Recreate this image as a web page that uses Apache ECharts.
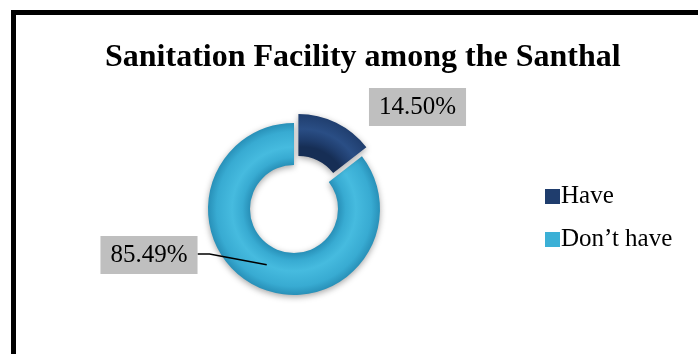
<!DOCTYPE html>
<html>
<head>
<meta charset="utf-8">
<script src="https://cdn.jsdelivr.net/npm/echarts@6/dist/echarts.min.js"></script>
<style>
html,body{margin:0;padding:0;background:#fff;}
#chart{width:698px;height:354px;}
</style>
</head>
<body>
<div id="chart"></div>
<script>
// ---- data ----
const titleText = 'Sanitation Facility among the Santhal';
const categories = ['Have', 'Don\u2019t have'];
const values = [14.50, 85.49];
const labelTexts = ['14.50%', '85.49%'];

// ---- style / layout ----
const CX = 294, CY = 209, R_IN = 44, R_OUT = 86, EXPLODE = 10;
const baseColors = ['#1f3d6d', '#3bb0d6'];

function ringGradient(cx, cy, dark, mid, light) {
  return {
    type: 'radial', x: cx, y: cy, r: R_OUT, global: true,
    colorStops: [
      { offset: 0, color: dark },
      { offset: R_IN / R_OUT, color: dark },
      { offset: 0.6, color: mid },
      { offset: 0.72, color: light },
      { offset: 0.9, color: mid },
      { offset: 1, color: dark }
    ]
  };
}
const total = values.reduce((a, b) => a + b, 0);
const haveMid = values[0] / total * Math.PI;
const offX = EXPLODE * Math.sin(haveMid), offY = -EXPLODE * Math.cos(haveMid);

const gradients = [
  ringGradient(CX + offX, CY + offY, '#162e55', '#1f3d6d', '#2a4e85'),
  ringGradient(CX, CY, '#2890b8', '#38abd2', '#46bbdf')
];

const mainData = categories.map((c, i) => ({
  name: c, value: values[i], selected: i === 0,
  itemStyle: { color: gradients[i] }
}));

const labelPos = [{ x: 417.5, y: 107 }, { x: 149, y: 255 }];

const overlayData = categories.map((c, i) => ({
  name: c, value: values[i],
  labelLine: { show: i === 1 }
}));

const chart = echarts.init(document.getElementById('chart'), null, { renderer: 'canvas' });
chart.setOption({
  backgroundColor: '#ffffff',
  animation: false,
  title: {
    text: titleText,
    left: 100,
    top: 37,
    textStyle: { fontFamily: 'Liberation Serif', fontWeight: 'bold', fontSize: 32, color: '#000' }
  },
  graphic: [{
    type: 'rect',
    shape: { x: 13.5, y: 12.5, width: 800, height: 500 },
    style: { fill: 'none', stroke: '#000', lineWidth: 5 },
    silent: true
  }],
  legend: {
    orient: 'vertical',
    left: 540,
    top: 179,
    itemWidth: 15,
    itemHeight: 15,
    itemGap: 18,
    icon: 'rect',
    selectedMode: false,
    textStyle: { fontFamily: 'Liberation Serif', fontSize: 25, color: '#000', padding: [0, 0, 0, -4] },
    data: categories.map((c, i) => ({ name: c, itemStyle: { color: baseColors[i] } }))
  },
  series: [
    {
      type: 'pie',
      z: 2,
      center: [CX, CY],
      radius: [R_IN, R_OUT],
      startAngle: 90,
      selectedMode: 'single',
      selectedOffset: EXPLODE,
      silent: true,
      label: { show: false },
      labelLine: { show: false },
      itemStyle: { borderWidth: 0, shadowBlur: 6, shadowColor: 'rgba(0,0,0,0.35)', shadowOffsetY: 2 },
      data: mainData
    },
    {
      type: 'pie',
      z: 5,
      zlevel: 1,
      center: [CX, CY],
      radius: [0, 62],
      startAngle: 90,
      silent: true,
      itemStyle: { color: 'rgba(0,0,0,0)' },
      label: {
        show: true,
        position: 'outside',
        formatter: p => labelTexts[p.dataIndex],
        fontFamily: 'Liberation Serif',
        fontSize: 25,
        lineHeight: 24,
        color: '#000',
        backgroundColor: '#bfbfbf',
        padding: [7, 10, 7, 10]
      },
      labelLine: { show: true, smooth: false, length: 10, length2: 10, lineStyle: { color: '#000', width: 1.6 } },
      labelLayout: function (params) {
        const i = params.dataIndex;
        const pos = labelPos[i];
        const out = { x: pos.x, y: pos.y, align: 'center', verticalAlign: 'middle' };
        if (i === 1 && params.labelLinePoints) {
          const start = params.labelLinePoints[0];
          const right = pos.x + params.labelRect.width / 2;
          out.labelLinePoints = [start, [right + 12, pos.y - 1], [right, pos.y - 1]];
        }
        return out;
      },
      data: overlayData
    }
  ]
});
</script>
</body>
</html>
